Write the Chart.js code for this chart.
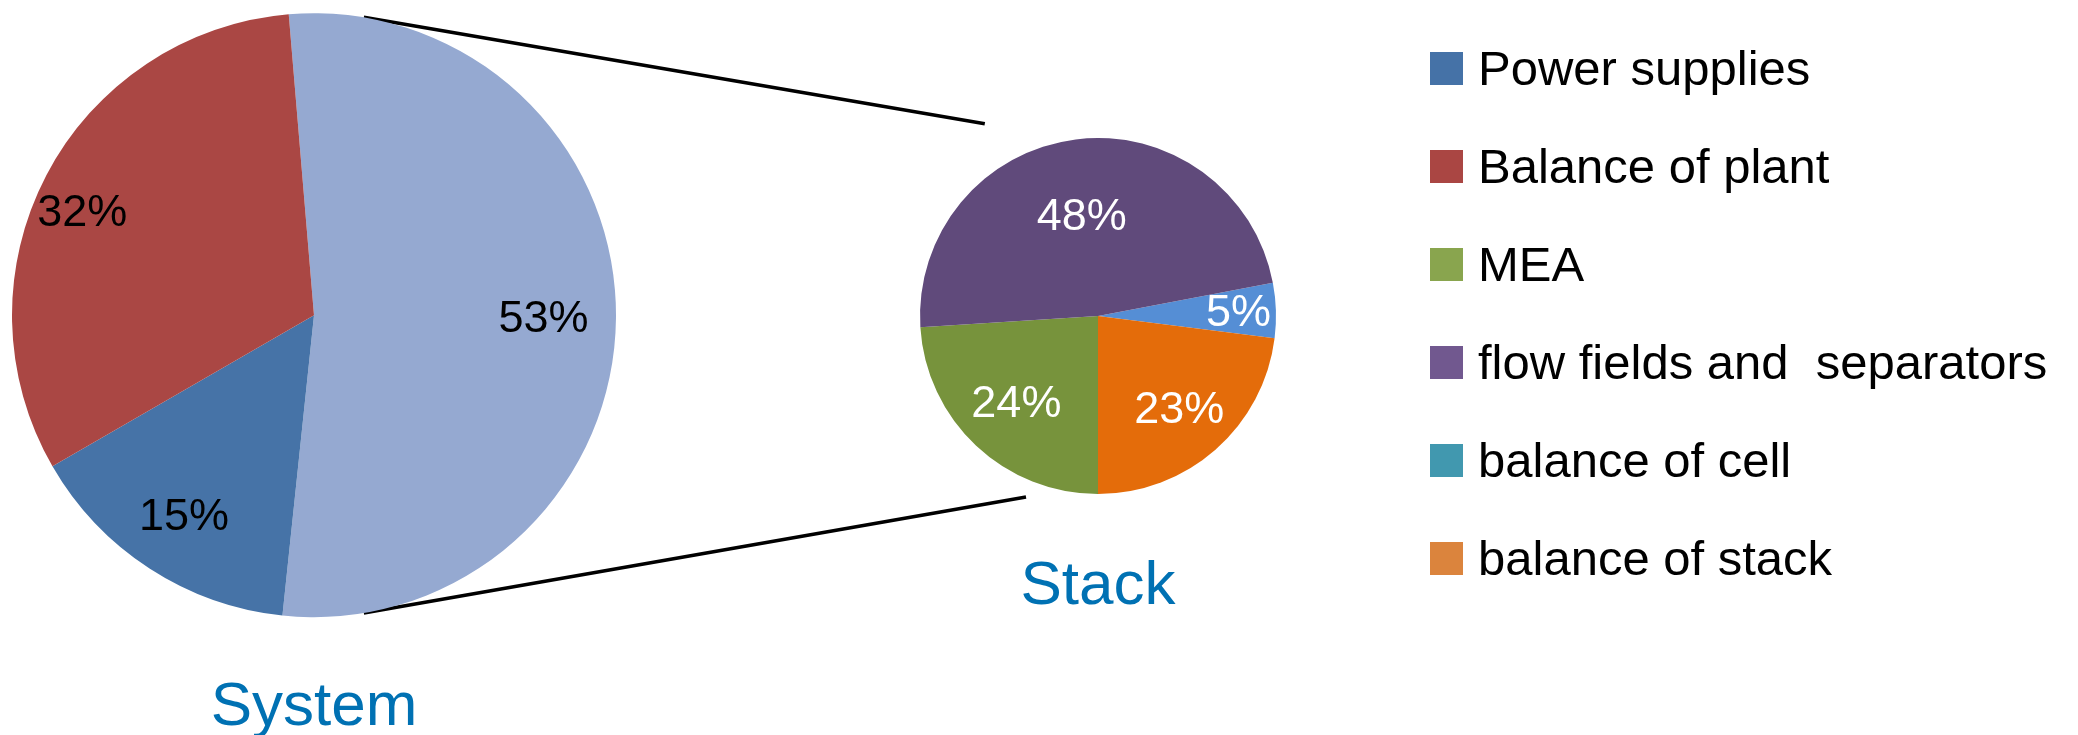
<!DOCTYPE html>
<html>
<head>
<meta charset="utf-8">
<script src="https://cdn.jsdelivr.net/npm/chart.js@4.4.1/dist/chart.umd.min.js"></script>
<style>
  html, body { margin: 0; padding: 0; background: #fff; width: 2078px; height: 735px; overflow: hidden; }
  canvas { position: absolute; left: 0; top: 0; }
  #legend { position: absolute; left: 1430px; top: 52px; margin: 0; padding: 0; list-style: none;
            font-family: "Liberation Sans", Arial, sans-serif; font-size: 49px; color: #000; }
  #legend li { position: relative; height: 98px; white-space: pre; }
  #legend .sw { position: absolute; left: 0; top: 0; width: 33px; height: 33px; }
  #legend .tx { position: absolute; left: 48px; top: 0; line-height: 33px; }
</style>
</head>
<body>
<canvas id="links" width="2078" height="735"></canvas>
<canvas id="systemChart" width="2078" height="735"></canvas>
<canvas id="stackChart" width="2078" height="735"></canvas>
<ul id="legend"></ul>

<script>
// system pie: the stack share first, then the rest of the system
const systemLabels = ["Stack", "Power supplies", "Balance of plant"];
const systemValues = [53, 15, 32];
const systemColors = ["#95A9D1", "#4673A7", "#AA4744"];

// stack pie (the exploded 53%)
const stackLabels = ["balance of cell", "balance of stack", "MEA", "flow fields and separators"];
const stackValues = [5, 23, 24, 48];
const stackColors = ["#558ED5", "#E46C0A", "#77933C", "#604A7B"];

// legend as it is in the picture
const legendLabels = ["Power supplies", "Balance of plant", "MEA", "flow fields and  separators", "balance of cell", "balance of stack"];
const legendColors = ["#4572A7", "#AA4643", "#89A54E", "#71588F", "#4198AF", "#DB843D"];

const FONT = '"Liberation Sans", Arial, sans-serif';
const TITLE_COLOR = "#0071B3";

// percent text inside the slices
const sliceLabels = {
  id: 'sliceLabels',
  afterDatasetsDraw(chart, args, opts) {
    const ctx = chart.ctx;
    const meta = chart.getDatasetMeta(0);
    const vals = chart.data.datasets[0].data;
    const total = vals.reduce((a, b) => a + b, 0);
    ctx.save();
    ctx.font = '45px ' + FONT;
    ctx.fillStyle = opts.color;
    ctx.textAlign = 'center';
    ctx.textBaseline = 'middle';
    meta.data.forEach((arc, i) => {
      const mid = (arc.startAngle + arc.endAngle) / 2 + (opts.shift[i] || 0) * Math.PI / 180;
      const r = arc.outerRadius * opts.radius[i];
      ctx.fillText(Math.round(vals[i] / total * 100) + '%', arc.x + Math.cos(mid) * r, arc.y + Math.sin(mid) * r + 2);
    });
    ctx.restore();
  }
};

function pieOptions(title, rotation, pad, titlePad, titleLH, labelColor, labelRadius, labelShift) {
  return {
    responsive: false,
    animation: false,
    rotation: rotation,
    layout: { padding: pad },
    plugins: {
      legend: { display: false },
      tooltip: { enabled: false },
      title: {
        display: true,
        text: title,
        position: 'bottom',
        color: TITLE_COLOR,
        font: { family: FONT, size: 62, weight: 'normal', lineHeight: titleLH },
        padding: { top: titlePad, bottom: 0 }
      },
      sliceLabels: { color: labelColor, radius: labelRadius, shift: labelShift }
    }
  };
}

const systemChart = new Chart(document.getElementById('systemChart'), {
  type: 'pie',
  data: {
    labels: systemLabels,
    datasets: [{ data: systemValues, backgroundColor: systemColors, borderWidth: 0 }]
  },
  options: pieOptions('System', -4.8, { left: 12, right: 1462, top: 13, bottom: 2 }, 66, 0.8, '#000',
                      [0.76, 0.79, 0.84], [0, 0, -3.6]),
  plugins: [sliceLabels]
});

const stackChart = new Chart(document.getElementById('stackChart'), {
  type: 'pie',
  data: {
    labels: stackLabels,
    datasets: [{ data: stackValues, backgroundColor: stackColors, borderWidth: 0 }]
  },
  options: pieOptions('Stack', 79.2, { left: 920, right: 802, top: 138, bottom: 117 }, 62, 1, '#fff',
                      [0.79, 0.69, 0.67, 0.57], [0, 0, 0, -2]),
  plugins: [sliceLabels]
});

// connector lines between the two pies
function drawLinks() {
  const big = systemChart.getDatasetMeta(0).data[0];
  const small = stackChart.getDatasetMeta(0).data[0];
  const ctx = document.getElementById('links').getContext('2d');
  const pt = (arc, deg, f) => {
    const a = (deg - 90) * Math.PI / 180;
    return [arc.x + Math.cos(a) * arc.outerRadius * f, arc.y + Math.sin(a) * arc.outerRadius * f];
  };
  const links = [[pt(big, 9.5, 1), pt(small, -30.5, 1.253)], [pt(big, 170.5, 1), pt(small, 201.7, 1.094)]];
  ctx.strokeStyle = '#000';
  ctx.lineWidth = 3.5;
  links.forEach(([p, q]) => {
    ctx.beginPath();
    ctx.moveTo(p[0], p[1]);
    ctx.lineTo(q[0], q[1]);
    ctx.stroke();
  });
}
drawLinks();

// legend
const ul = document.getElementById('legend');
legendLabels.forEach((txt, i) => {
  const li = document.createElement('li');
  li.innerHTML = '<span class="sw" style="background:' + legendColors[i] + '"></span><span class="tx"></span>';
  li.querySelector('.tx').textContent = txt;
  ul.appendChild(li);
});
</script>
</body>
</html>
